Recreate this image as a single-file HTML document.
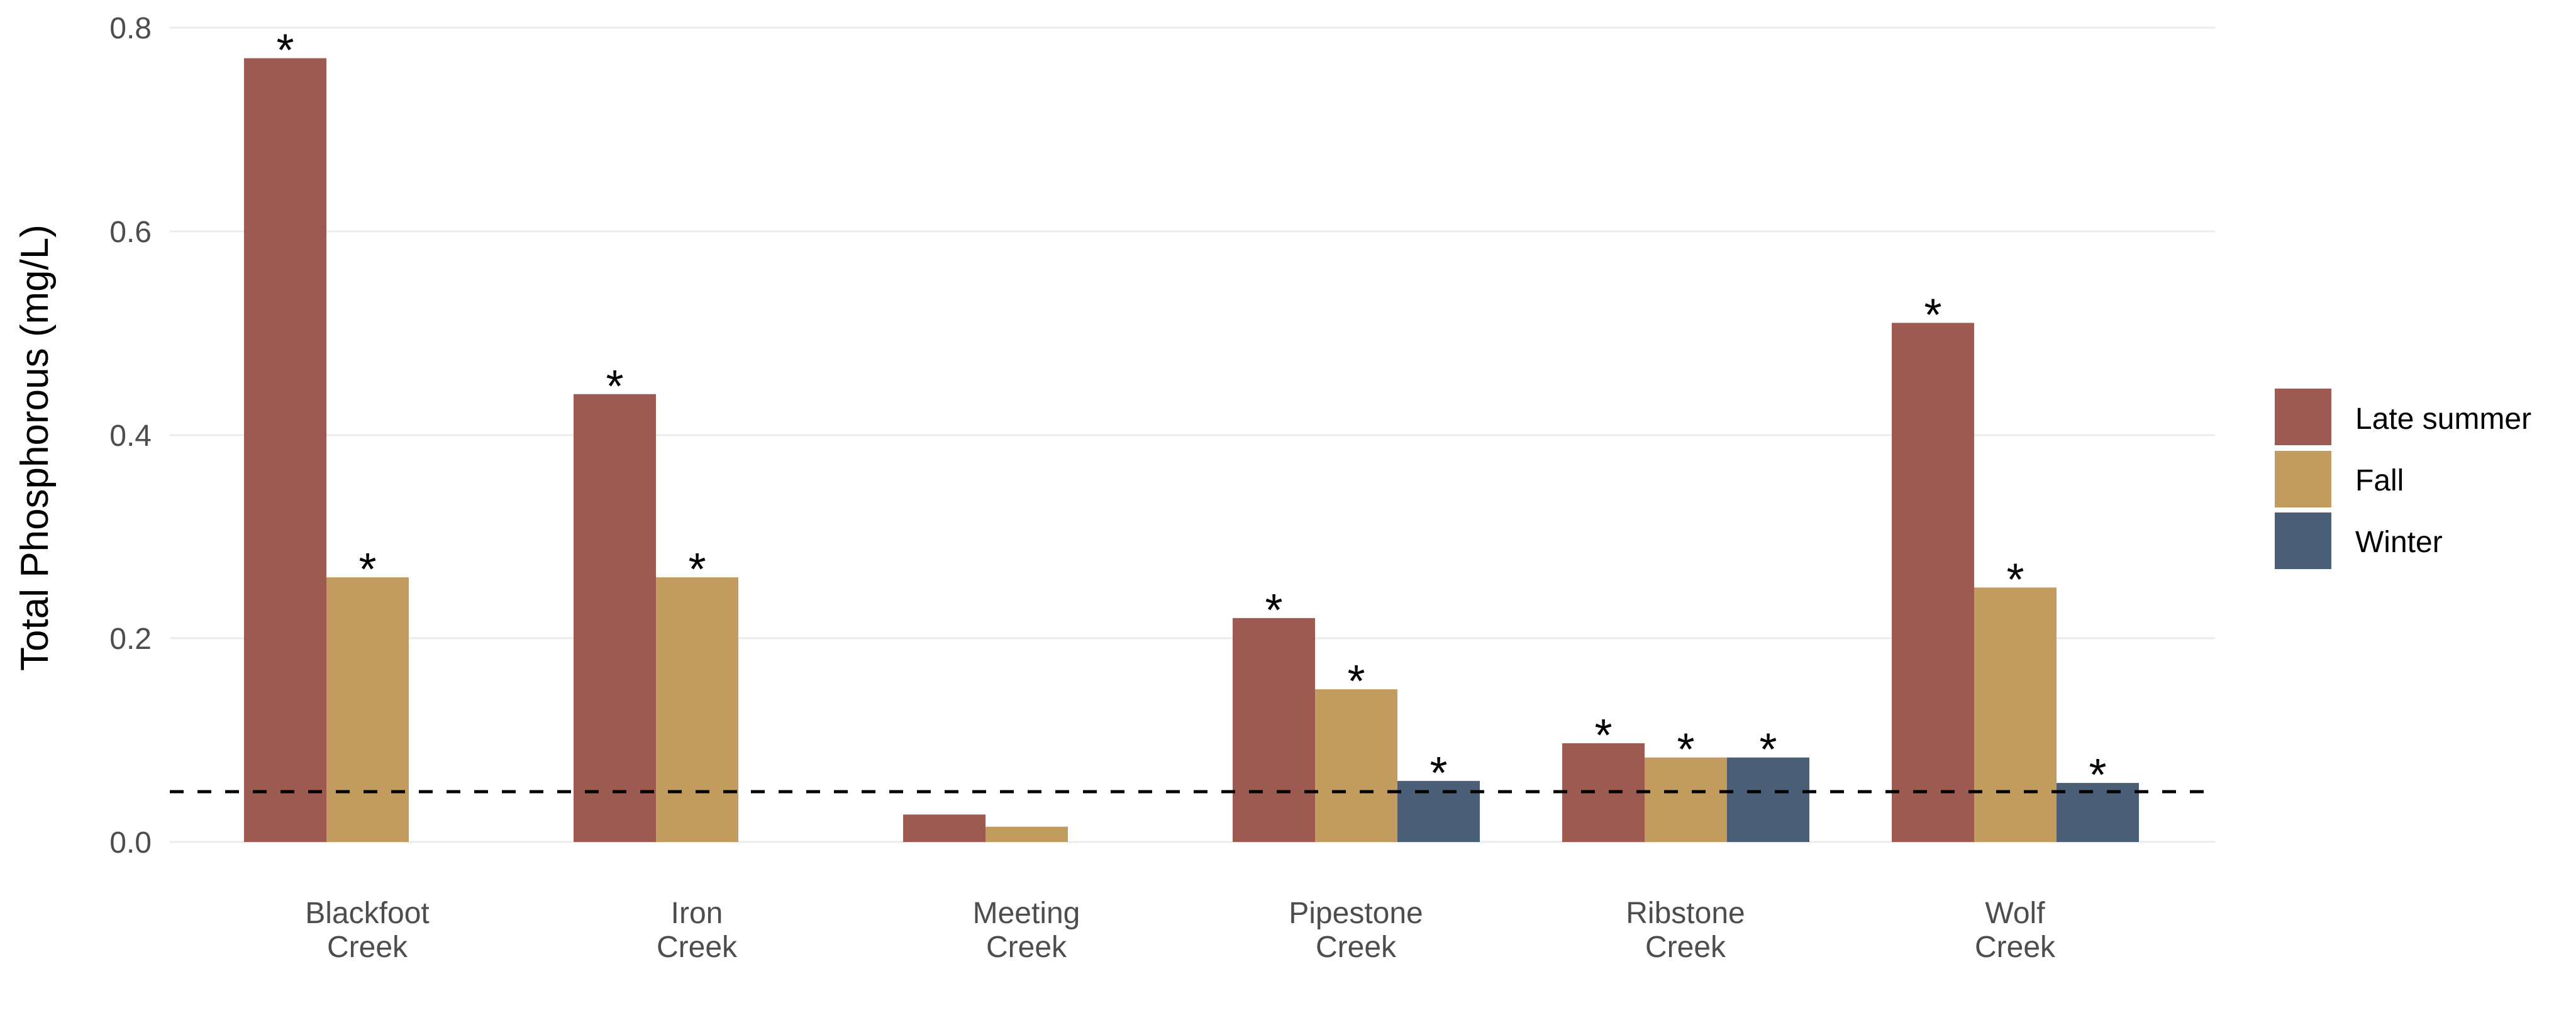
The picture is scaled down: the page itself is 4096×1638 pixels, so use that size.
<!DOCTYPE html>
<html><head><meta charset="utf-8"><style>html,body{margin:0;padding:0;background:#fff}svg{display:block}</style></head>
<body>
<svg width="4096" height="1638" viewBox="0 0 4096 1638" xmlns="http://www.w3.org/2000/svg" font-family="Liberation Sans, Arial, sans-serif">
<rect width="4096" height="1638" fill="#fff"/>
<g stroke="#ebebeb" stroke-width="3">
<line x1="270" x2="3522" y1="1339" y2="1339"/>
<line x1="270" x2="3522" y1="1015" y2="1015"/>
<line x1="270" x2="3522" y1="692" y2="692"/>
<line x1="270" x2="3522" y1="368" y2="368"/>
<line x1="270" x2="3522" y1="44" y2="44"/>
</g>
<g font-size="48" fill="#4d4d4d" text-anchor="end">
<text x="241" y="1356">0.0</text>
<text x="241" y="1032">0.2</text>
<text x="241" y="709">0.4</text>
<text x="241" y="385">0.6</text>
<text x="241" y="61">0.8</text>
</g>
<text transform="translate(76,712) rotate(-90)" font-size="62" text-anchor="middle" fill="#000">Total Phosphorous (mg/L)</text>
<g id="bars"></g>
<line x1="270" x2="3522" y1="1259" y2="1259" stroke="#000" stroke-width="5" stroke-dasharray="22,22"/>
<g font-size="48" fill="#4d4d4d" text-anchor="middle" id="xl"></g>
<g font-size="48" fill="#000">
<rect x="3617" y="618" width="90" height="90" fill="#9c5a51"/>
<rect x="3617" y="717" width="90" height="90" fill="#c29b5f"/>
<rect x="3617" y="815" width="90" height="90" fill="#4a5f75"/>
<text x="3745" y="682">Late summer</text>
<text x="3745" y="780">Fall</text>
<text x="3745" y="878">Winter</text>
</g>
<script>
var ns="http://www.w3.org/2000/svg";
var names=[["Blackfoot","Creek"],["Iron","Creek"],["Meeting","Creek"],["Pipestone","Creek"],["Ribstone","Creek"],["Wolf","Creek"]];
var vals=[[0.77,0.26,null],[0.44,0.26,null],[0.027,0.015,null],[0.22,0.15,0.06],[0.097,0.083,0.083],[0.51,0.25,0.058]];
var star=[[1,1,0],[1,1,0],[0,0,0],[1,1,1],[1,1,1],[1,1,1]];
var cols=["#9c5a51","#c29b5f","#4a5f75"];
var g=document.getElementById("bars"),xl=document.getElementById("xl");
for(var i=0;i<6;i++){var c=584+524*i;
 for(var j=0;j<3;j++){var v=vals[i][j];if(v==null)continue;
  var x=c-196+131*j,y=1339-v*1618.75;
  var r=document.createElementNS(ns,"rect");r.setAttribute("x",x);r.setAttribute("y",y);r.setAttribute("width",131);r.setAttribute("height",1339-y);r.setAttribute("fill",cols[j]);g.appendChild(r);
  if(star[i][j]){var t=document.createElementNS(ns,"text");t.setAttribute("x",x+65.5);t.setAttribute("y",y+12);t.setAttribute("font-size","72");t.setAttribute("text-anchor","middle");t.setAttribute("fill","#000");t.textContent="*";g.appendChild(t);}
 }
 for(var k=0;k<2;k++){var t=document.createElementNS(ns,"text");t.setAttribute("x",c);t.setAttribute("y",1468+54*k);t.textContent=names[i][k];xl.appendChild(t);}
}
</script>
</svg>
</body></html>
